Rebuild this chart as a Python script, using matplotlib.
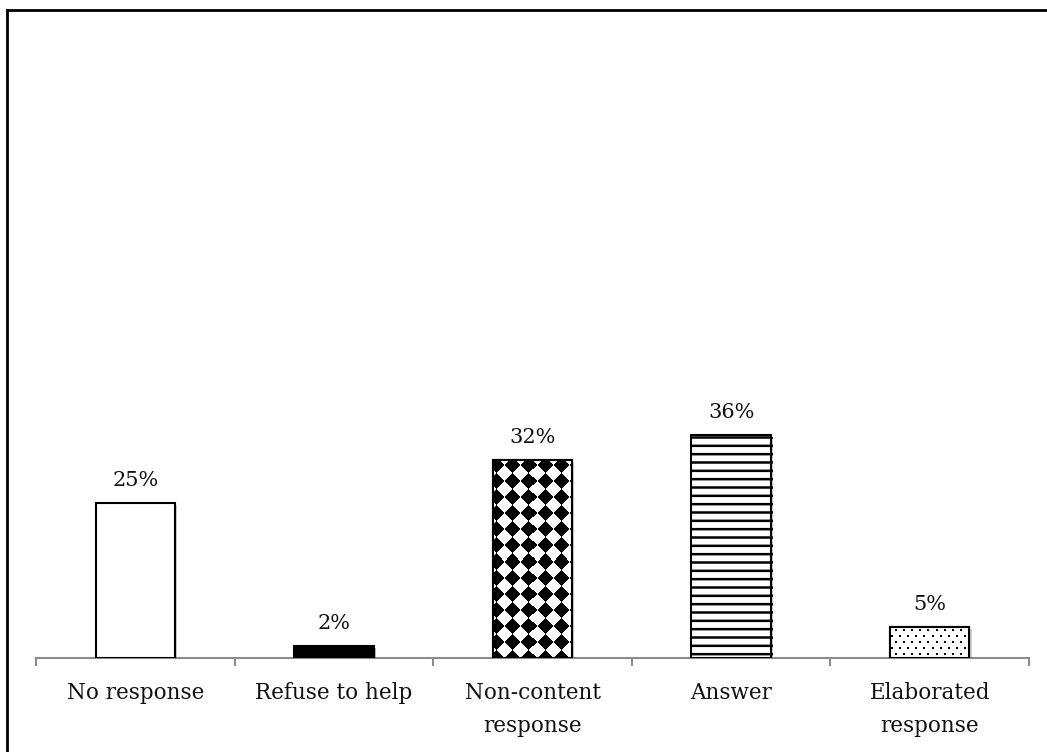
import numpy as np
import matplotlib
matplotlib.use("Agg")
import matplotlib.pyplot as plt
from matplotlib.lines import Line2D
import matplotlib.patheffects as pe

categories = ["No response", "Refuse to help", "Non-content\nresponse", "Answer", "Elaborated\nresponse"]
values = [0.25, 0.02, 0.32, 0.36, 0.05]
labels = ["25%", "2%", "32%", "36%", "5%"]

plt.rcParams["hatch.linewidth"] = 1.8
plt.rcParams["font.family"] = ["DejaVu Serif"]

W, H = 1047, 752
fig = plt.figure(figsize=(W / 100, H / 100), dpi=100)
ax = fig.add_axes([36 / W, (H - 658) / H, (1029 - 36) / W, (658 - 38) / H])

x = np.arange(len(categories))
faces = ["white", "black", "white", "white", "white"]
hatches = [None, None, None, "--", None]
bars = ax.bar(x, values, width=0.4, color=faces, edgecolor="black", linewidth=1.5, zorder=3)
shadow = [pe.SimplePatchShadow(offset=(1.5, -1.5), alpha=0.25), pe.Normal()]
for b, h in zip(bars, hatches):
    if h:
        b.set_hatch(h)
    b.set_path_effects(shadow)

ax.set_xlim(-0.5, len(categories) - 0.5)
ax.set_ylim(0, 1.0)
fig.canvas.draw()


def pattern_fill(b, kind):
    x0, y0, bw, bh = b.get_x(), b.get_y(), b.get_width(), b.get_height()
    p0 = ax.transData.transform((x0, y0))
    p1 = ax.transData.transform((x0 + bw, y0 + bh))
    npx = int(round(p1[0] - p0[0]))
    npy = int(round(p1[1] - p0[1]))
    xx, yy = np.meshgrid(np.arange(npx) + 0.5, np.arange(npy)[::-1] + 0.5)
    if kind == "diamond":
        s = 16.0
        u = np.floor((xx + yy + 4) / s)
        v = np.floor((xx - yy + 4) / s)
        pat = ((u + v) % 2).astype(float)
    else:
        row = np.floor((yy - 3) / 6.0)
        xs = xx - 5 - 4 * (row % 2)
        dy = (yy - 3) - 6 * row
        dx = xs - 8 * np.floor(xs / 8.0)
        pat = np.where((dx < 2) & (dy < 2), 0.0, 1.0)
    img = ax.imshow(pat, cmap="gray", vmin=0, vmax=1, extent=(x0, x0 + bw, y0, y0 + bh),
                    origin="upper", interpolation="nearest", aspect="auto", zorder=3.5)
    img.set_clip_path(b)
    ax.bar([b.get_x() + bw / 2], [bh], width=bw, facecolor="none", edgecolor="black",
           linewidth=1.5, zorder=4)


pattern_fill(bars[2], "diamond")
pattern_fill(bars[4], "dots")
ax.set_xlim(-0.5, len(categories) - 0.5)
ax.set_ylim(0, 1.0)

for xi, v_, lab in zip(x, values, labels):
    ax.annotate(lab, (xi, v_), xytext=(0, 9), textcoords="offset points",
                ha="center", va="bottom", fontsize=15, color="#111111")

for sp in ["top", "right", "left"]:
    ax.spines[sp].set_visible(False)
ax.spines["bottom"].set_color("#8c8c8c")
ax.spines["bottom"].set_linewidth(1.5)
ax.set_yticks([])
ax.set_xticks(np.arange(len(categories) + 1) - 0.5, minor=True)
ax.tick_params(axis="x", which="minor", length=6, width=1.5, color="#8c8c8c")
ax.set_xticks(x)
ax.set_xticklabels(categories, fontsize=15.5, color="#111111", linespacing=1.6)
ax.tick_params(axis="x", which="major", length=0, pad=17.5)

fig.add_artist(Line2D([6.5 / W, 1.0], [1 - 9.5 / H, 1 - 9.5 / H], color="black", lw=2,
                      transform=fig.transFigure))
fig.add_artist(Line2D([6.5 / W, 6.5 / W], [0, 1 - 9.5 / H], color="black", lw=2,
                      transform=fig.transFigure))

fig.savefig("out.png", dpi=100)
